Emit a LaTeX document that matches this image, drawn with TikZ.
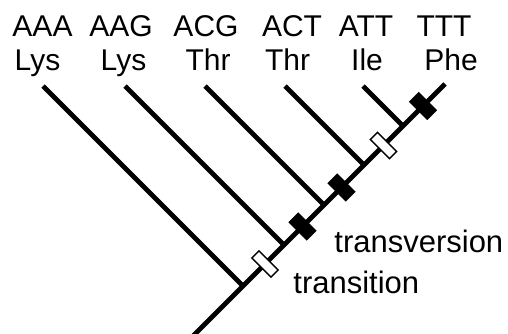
\documentclass[tikz,border=0pt]{standalone}
\usepackage{fontspec}
\setmainfont{Liberation Sans}
\usepackage{tikz}

\begin{document}
\begin{tikzpicture}[x=1pt,y=-1pt,line width=4.8pt,
  lab/.style={anchor=base,inner sep=0pt,font=\fontsize{30}{30}\selectfont},
  ts/.style={draw=black,line width=1.5pt,fill=white,inner sep=0pt,
    minimum width=27pt,minimum height=10pt,rotate=-45},
  tv/.style={fill=black,inner sep=0pt,
    minimum width=26pt,minimum height=14pt,rotate=-45}]
\useasboundingbox (0,0) rectangle (508,334);

\node[lab] (1) at (42.5,37) {AAA};
\node[lab] (2) at (121,37) {AAG};
\node[lab] (3) at (206,37) {ACG};
\node[lab] (4) at (292,37) {ACT};
\node[lab] (5) at (366,37) {ATT};
\node[lab] (6) at (444,37) {TTT};

\node[lab] (1a) at (37.5,71) {Lys};
\node[lab] (2a) at (123.5,71) {Lys};
\node[lab] (3a) at (208,71) {Thr};
\node[lab] (4a) at (287.5,71) {Thr};
\node[lab] (5a) at (367,71) {Ile};
\node[lab] (6a) at (451,71) {Phe};

\coordinate (r) at (193,336);
\coordinate (t1) at (43,86);
\coordinate (t2) at (125,86);
\coordinate (t3) at (205,86);
\coordinate (t4) at (285,86);
\coordinate (t5) at (363,86);
\coordinate (t6) at (445,84);
\coordinate (j1) at (243,286);
\coordinate (j2) at (284,245);
\coordinate (j3) at (324,205);
\coordinate (j4) at (364,165);
\coordinate (j5) at (403,126);

\draw (r) -- (t6);
\draw (t1) -- (j1);
\draw (t2) -- (j2);
\draw (t3) -- (j3);
\draw (t4) -- (j4);
\draw (t5) -- (j5);

\node[ts] (m1) at (265,264) {};
\node[tv] (m2) at (302.5,226.5) {};
\node[tv] (m3) at (341.5,187.5) {};
\node[ts] (m4) at (383.5,145.5) {};
\node[tv] (m5) at (423,106) {};

\node[lab,anchor=base west,font=\fontsize{31}{31}\selectfont] (7) at (332,252) {transversion};
\node[lab,anchor=base west,font=\fontsize{31}{31}\selectfont] (8) at (291,293) {transition};
\end{tikzpicture}
\end{document}
